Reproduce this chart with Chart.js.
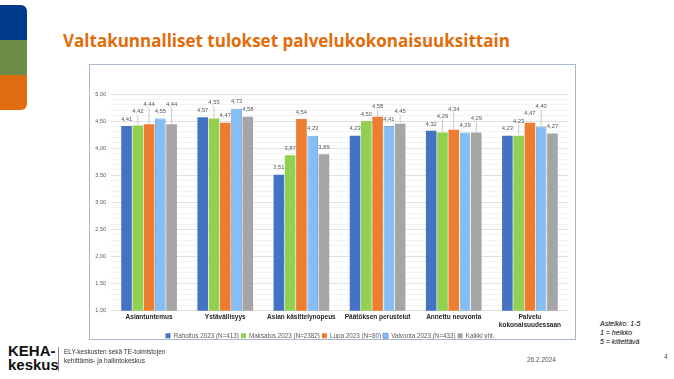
<!DOCTYPE html>
<html><head><meta charset="utf-8">
<script src="https://cdn.jsdelivr.net/npm/chart.js@4"></script>
<style>
html,body{margin:0;padding:0;background:#fff;width:674px;height:379px;overflow:hidden;font-family:"Liberation Sans",Arial,sans-serif;}
.strip{position:absolute;left:0;width:27px;}
#s1{top:5px;height:35px;background:#003A8C;border-top-right-radius:6px;}
#s2{top:40px;height:35px;background:#6E8E48;}
#s3{top:75px;height:35px;background:#E06B10;border-bottom-right-radius:6px;}
#title{position:absolute;left:63px;top:31px;font-family:"Open Sans",sans-serif;font-weight:bold;font-size:17px;line-height:20px;color:#E36C0A;white-space:nowrap;}
#c{position:absolute;left:90px;top:65px;}
#box{position:absolute;left:89px;top:64px;width:485px;height:274px;border:1px solid #A9B8CC;pointer-events:none;}
#note{position:absolute;left:600px;top:319px;font-size:7px;font-style:italic;line-height:9px;color:#000;}
#keha{position:absolute;left:8px;top:344px;font-size:15px;font-weight:bold;line-height:14px;color:#111;}
#sep{position:absolute;left:58px;top:347px;width:1px;height:24px;background:#888;}
#ely{position:absolute;left:64px;top:347px;font-size:6.5px;line-height:9px;color:#333;}
#date{position:absolute;left:527px;top:356px;font-size:6.5px;color:#555;}
#pg{position:absolute;left:664px;top:353px;font-size:7px;color:#555;}
</style></head>
<body>
<div class="strip" id="s1"></div><div class="strip" id="s2"></div><div class="strip" id="s3"></div>
<div id="title">Valtakunnalliset tulokset palvelukokonaisuuksittain</div>
<canvas id="c" width="484" height="284"></canvas>
<div id="box"></div>
<div id="note">Asteikko: 1-5<br>1 = heikko<br>5 = kiitettävä</div>
<div id="keha">KEHA-<br>keskus</div>
<div id="sep"></div>
<div id="ely">ELY-keskusten sekä TE-toimistojen<br>kehittämis- ja hallintokeskus</div>
<div id="date">26.2.2024</div>
<div id="pg">4</div>
<script>
const categories = ["Asiantuntemus","Ystävällisyys","Asian käsittelynopeus","Päätöksen perustelut","Annettu neuvonta",["Palvelu","kokonaisuudessaan"]];
const seriesNames = ["Rahoitus 2023 (N=413)","Maksatus 2023 (N=2382)","Lupa 2023 (N=80)","Valvonta 2023 (N=433)","Kaikki yht."];
const rahoitus = [4.41,4.57,3.51,4.23,4.32,4.23];
const maksatus = [4.42,4.55,3.87,4.50,4.29,4.23];
const lupa     = [4.44,4.47,4.54,4.58,4.34,4.47];
const valvonta = [4.55,4.73,4.23,4.41,4.29,4.40];
const kaikki   = [4.44,4.58,3.89,4.45,4.29,4.27];
const yMin = 1, yMax = 5, yStep = 0.1, yLabelStep = 0.5;

const colors = ["#4472C4","#92D050","#ED7D31","#85BDF5","#A5A5A5"];
const borders = ["#4472C4","#92D050","#ED7D31","#5B8FD0","#A5A5A5"];
const seriesData = [rahoitus,maksatus,lupa,valvonta,kaikki];

const fmt = v => v.toFixed(2).replace('.',',');
const FONT = '"Liberation Sans", Arial, sans-serif';

const labelPlugin = {
  id:'vlabels',
  afterDatasetsDraw(chart){
    const ctx = chart.ctx;
    ctx.save();
    ctx.font = '5.8px ' + FONT;
    ctx.fillStyle = '#595959';
    ctx.strokeStyle = '#A6A6A6';
    ctx.lineWidth = 0.6;
    ctx.textAlign = 'center';
    ctx.textBaseline = 'bottom';
    const n = categories.length;
    for(let i=0;i<n;i++){
      const placed = [];
      chart.data.datasets.forEach((ds,di)=>{
        const el = chart.getDatasetMeta(di).data[i];
        const txt = fmt(ds.data[i]);
        const w = ctx.measureText(txt).width + 1.5;
        const h = 6.5;
        let base = el.y - 4;
        let moved = true;
        let guard = 0;
        while(moved && guard++ < 20){
          moved = false;
          for(const r of placed){
            const l = el.x - w/2, rr = el.x + w/2;
            if(l < r.r && rr > r.l && base - h < r.b && base > r.b - h){
              base = r.b - h - 1; moved = true;
            }
          }
        }
        placed.push({l:el.x-w/2, r:el.x+w/2, b:base});
        ctx.fillText(txt, el.x, base);
        if(el.y - base > 6){
          ctx.beginPath();
          ctx.moveTo(el.x, base+0.5);
          ctx.lineTo(el.x, el.y-0.5);
          ctx.stroke();
        }
      });
    }
    ctx.restore();
  }
};

new Chart(document.getElementById('c'),{
  type:'bar',
  data:{
    labels:categories,
    datasets:seriesNames.map((name,k)=>({
      label:name,
      data:seriesData[k],
      backgroundColor:colors[k],
      borderColor:borders[k],
      borderWidth:k===3?0.8:0,
      categoryPercentage:0.74,
      barPercentage:0.94
    }))
  },
  options:{
    responsive:false,
    animation:false,
    devicePixelRatio:1,
    layout:{padding:{left:2,right:6,top:29,bottom:0}},
    plugins:{
      legend:{
        position:'bottom',
        labels:{boxWidth:5,boxHeight:5,padding:2,color:'#595959',font:{size:6.3,family:FONT}}
      },
      tooltip:{enabled:false}
    },
    scales:{
      y:{
        min:yMin,max:yMax,
        border:{display:false},
        afterFit:s=>{s.width=19;},
        grid:{
          color:ctx=>{const v=ctx.tick.value;return Math.abs(v/yLabelStep-Math.round(v/yLabelStep))<1e-6?'#D9D9D9':'#F0F0F0';},
          lineWidth:0.8,drawTicks:false
        },
        ticks:{
          stepSize:yStep,autoSkip:false,padding:5,color:'#595959',
          font:{size:5.5,family:FONT},
          callback:v=>Math.abs(v/yLabelStep-Math.round(v/yLabelStep))<1e-6?fmt(v):''
        }
      },
      x:{
        grid:{display:false,drawTicks:false},
        border:{display:false},
        afterFit:s=>{s.height=20;},
        ticks:{color:'#262626',maxRotation:0,autoSkip:false,padding:3,font:{size:6.5,weight:'bold',family:FONT}}
      }
    }
  },
  plugins:[labelPlugin]
});
</script>
</body></html>
